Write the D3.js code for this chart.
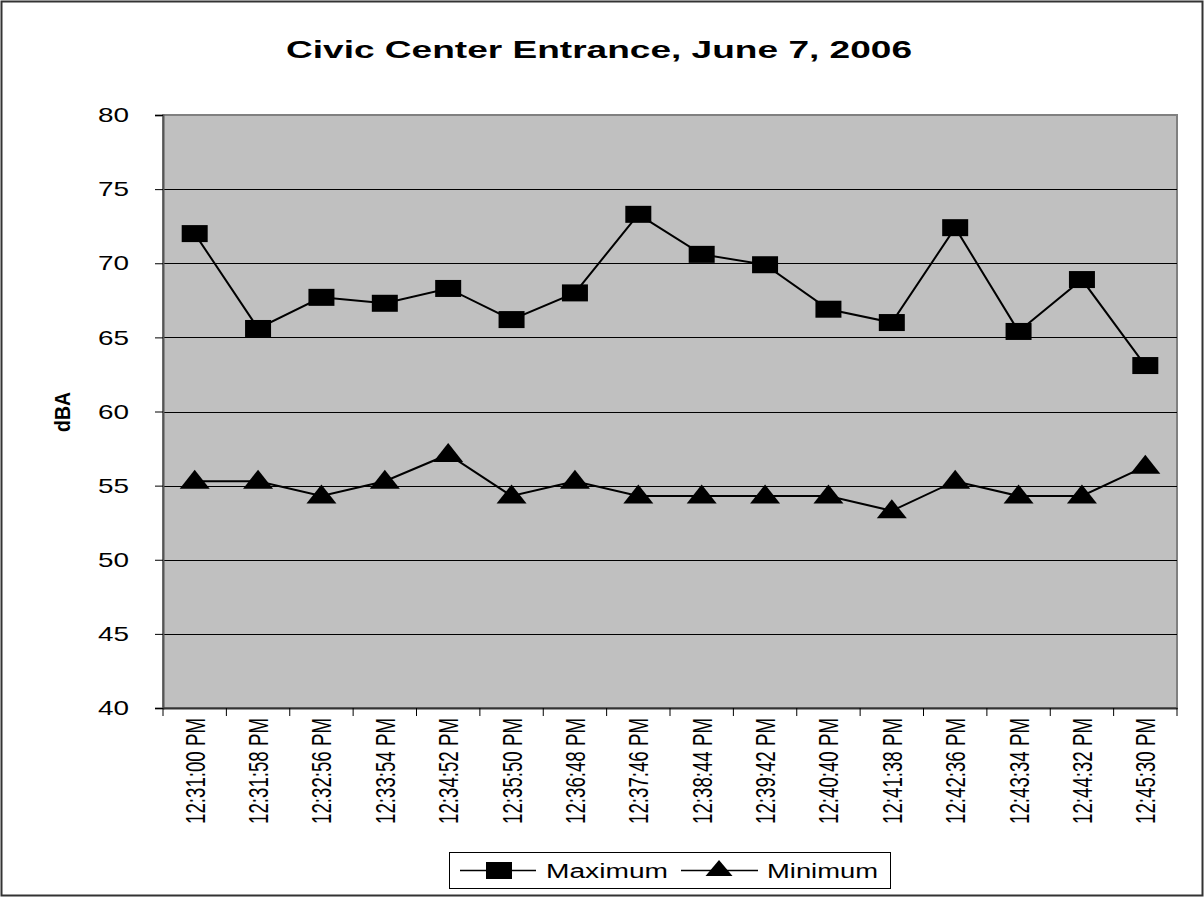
<!DOCTYPE html>
<html>
<head>
<meta charset="utf-8">
<script src="https://cdn.jsdelivr.net/npm/d3@7"></script>
<style>
  body { margin: 0; background: #fff; }
  svg text { font-family: "Liberation Sans", Arial, sans-serif; }
</style>
</head>
<body>
<div id="chart"></div>
<script>
var times = ["12:31:00 PM", "12:31:58 PM", "12:32:56 PM", "12:33:54 PM", "12:34:52 PM",
    "12:35:50 PM", "12:36:48 PM", "12:37:46 PM", "12:38:44 PM", "12:39:42 PM",
    "12:40:40 PM", "12:41:38 PM", "12:42:36 PM", "12:43:34 PM", "12:44:32 PM", "12:45:30 PM"];
var maximum = [72.0, 65.6, 67.7, 67.3, 68.3, 66.2, 68.0, 73.3, 70.6, 69.9, 66.9, 66.0, 72.4, 65.4, 68.9, 63.1];
var minimum = [55.3, 55.3, 54.3, 55.3, 57.1, 54.3, 55.3, 54.3, 54.3, 54.3, 54.3, 53.3, 55.3, 54.3, 54.3, 56.3];
var yTicks = [40, 45, 50, 55, 60, 65, 70, 75, 80];

var width = 1204, height = 897;
var margin = {top: 115, right: 27, bottom: 189, left: 163};

var svg = d3.select("#chart")
    .append("svg")
    .attr("width", width)
    .attr("height", height);

// outer chart border
svg.append("rect")
    .attr("x", 1.5).attr("y", 1.5)
    .attr("width", width - 3).attr("height", height - 3)
    .attr("fill", "#fff")
    .attr("stroke", "#333")
    .attr("stroke-width", 2);

var x = d3.scaleBand()
    .domain(times)
    .range([margin.left, width - margin.right]);

var y = d3.scaleLinear()
    .domain([40, 80])
    .range([height - margin.bottom, margin.top]);

// plot area
svg.append("rect")
    .attr("x", margin.left)
    .attr("y", margin.top)
    .attr("width", width - margin.right - margin.left)
    .attr("height", height - margin.bottom - margin.top)
    .attr("fill", "#c0c0c0")
    .attr("stroke", "#808080")
    .attr("stroke-width", 2);

// gridlines
svg.append("g")
    .selectAll("line")
    .data(yTicks.filter(function (d) { return d > 40 && d < 80; }))
    .enter().append("line")
    .attr("x1", margin.left)
    .attr("x2", width - margin.right)
    .attr("y1", function (d) { return Math.round(y(d)) + 0.5; })
    .attr("y2", function (d) { return Math.round(y(d)) + 0.5; })
    .attr("stroke", "#000")
    .attr("stroke-width", 1);

// Y axis
var yAxis = svg.append("g")
    .attr("transform", "translate(" + margin.left + ",0)")
    .call(d3.axisLeft(y).tickValues(yTicks).tickSize(8).tickPadding(26));

yAxis.select(".domain").attr("stroke", "#555").attr("stroke-width", 2);
yAxis.selectAll(".tick line").attr("stroke", "#000");
yAxis.selectAll("text")
    .style("font-size", "21px")
    .attr("fill", "#000")
    .attr("textLength", 31)
    .attr("lengthAdjust", "spacingAndGlyphs");

// X axis
var xAxis = svg.append("g")
    .attr("transform", "translate(0," + (height - margin.bottom) + ")")
    .call(d3.axisBottom(x).tickSize(0).tickFormat(""));

xAxis.select(".domain").attr("stroke", "#333").attr("stroke-width", 2);

// tick marks between categories
xAxis.append("g")
    .selectAll("line")
    .data(times.concat(["end"]))
    .enter().append("line")
    .attr("x1", function (d, i) { return i < times.length ? x(d) : x.range()[1]; })
    .attr("x2", function (d, i) { return i < times.length ? x(d) : x.range()[1]; })
    .attr("y1", 0)
    .attr("y2", 8)
    .attr("stroke", "#000");

// rotated category labels
xAxis.append("g")
    .selectAll("text")
    .data(times)
    .enter().append("text")
    .attr("transform", function (d) {
        return "translate(" + (x(d) + x.bandwidth() / 2 + 10) + ",10) rotate(-90)";
    })
    .attr("text-anchor", "end")
    .attr("textLength", 106)
    .attr("lengthAdjust", "spacingAndGlyphs")
    .style("font-size", "28px")
    .attr("fill", "#000")
    .text(function (d) { return d; });

// title
svg.append("text")
    .attr("x", 599)
    .attr("y", 58)
    .attr("text-anchor", "middle")
    .attr("textLength", 626)
    .attr("lengthAdjust", "spacingAndGlyphs")
    .style("font-size", "23px")
    .style("font-weight", "bold")
    .text("Civic Center Entrance, June 7, 2006");

// Y label
svg.append("text")
    .attr("transform", "translate(70,412) rotate(-90)")
    .attr("text-anchor", "middle")
    .attr("textLength", 40)
    .attr("lengthAdjust", "spacingAndGlyphs")
    .style("font-size", "22px")
    .style("font-weight", "bold")
    .text("dBA");

var cx = function (d, i) { return x(times[i]) + x.bandwidth() / 2; };

var line = d3.line()
    .x(function (d, i) { return cx(d, i); })
    .y(function (d) { return y(d); });

svg.append("path")
    .datum(maximum)
    .attr("d", line)
    .attr("fill", "none")
    .attr("stroke", "#000")
    .attr("stroke-width", 2);

svg.append("path")
    .datum(minimum)
    .attr("d", line)
    .attr("fill", "none")
    .attr("stroke", "#000")
    .attr("stroke-width", 2);

function triangle(w, h) {
    return "M0," + (-h / 2) + "L" + (w / 2) + "," + (h / 2) + "L" + (-w / 2) + "," + (h / 2) + "Z";
}

svg.append("g")
    .selectAll("rect")
    .data(maximum)
    .enter().append("rect")
    .attr("x", function (d, i) { return cx(d, i) - 13; })
    .attr("y", function (d) { return y(d) - 8.5; })
    .attr("width", 26)
    .attr("height", 17)
    .attr("fill", "#000");

svg.append("g")
    .selectAll("path")
    .data(minimum)
    .enter().append("path")
    .attr("transform", function (d, i) { return "translate(" + cx(d, i) + "," + (y(d) - 2) + ")"; })
    .attr("d", triangle(30, 19))
    .attr("fill", "#000");

// legend
var legend = svg.append("g");
legend.append("rect")
    .attr("x", 449.5).attr("y", 852.5)
    .attr("width", 441).attr("height", 36)
    .attr("fill", "#fff")
    .attr("stroke", "#000")
    .attr("stroke-width", 1);

legend.append("line")
    .attr("x1", 460).attr("x2", 536)
    .attr("y1", 870.5).attr("y2", 870.5)
    .attr("stroke", "#000").attr("stroke-width", 1.5);
legend.append("rect")
    .attr("x", 486).attr("y", 862)
    .attr("width", 26).attr("height", 17)
    .attr("fill", "#000");
legend.append("text")
    .attr("x", 546).attr("y", 878)
    .attr("textLength", 122)
    .attr("lengthAdjust", "spacingAndGlyphs")
    .style("font-size", "20px")
    .text("Maximum");

legend.append("line")
    .attr("x1", 681).attr("x2", 758)
    .attr("y1", 870.5).attr("y2", 870.5)
    .attr("stroke", "#000").attr("stroke-width", 1.5);
legend.append("path")
    .attr("transform", "translate(719,868)")
    .attr("d", triangle(27, 16))
    .attr("fill", "#000");
legend.append("text")
    .attr("x", 767).attr("y", 878)
    .attr("textLength", 111)
    .attr("lengthAdjust", "spacingAndGlyphs")
    .style("font-size", "20px")
    .text("Minimum");
</script>
</body>
</html>
